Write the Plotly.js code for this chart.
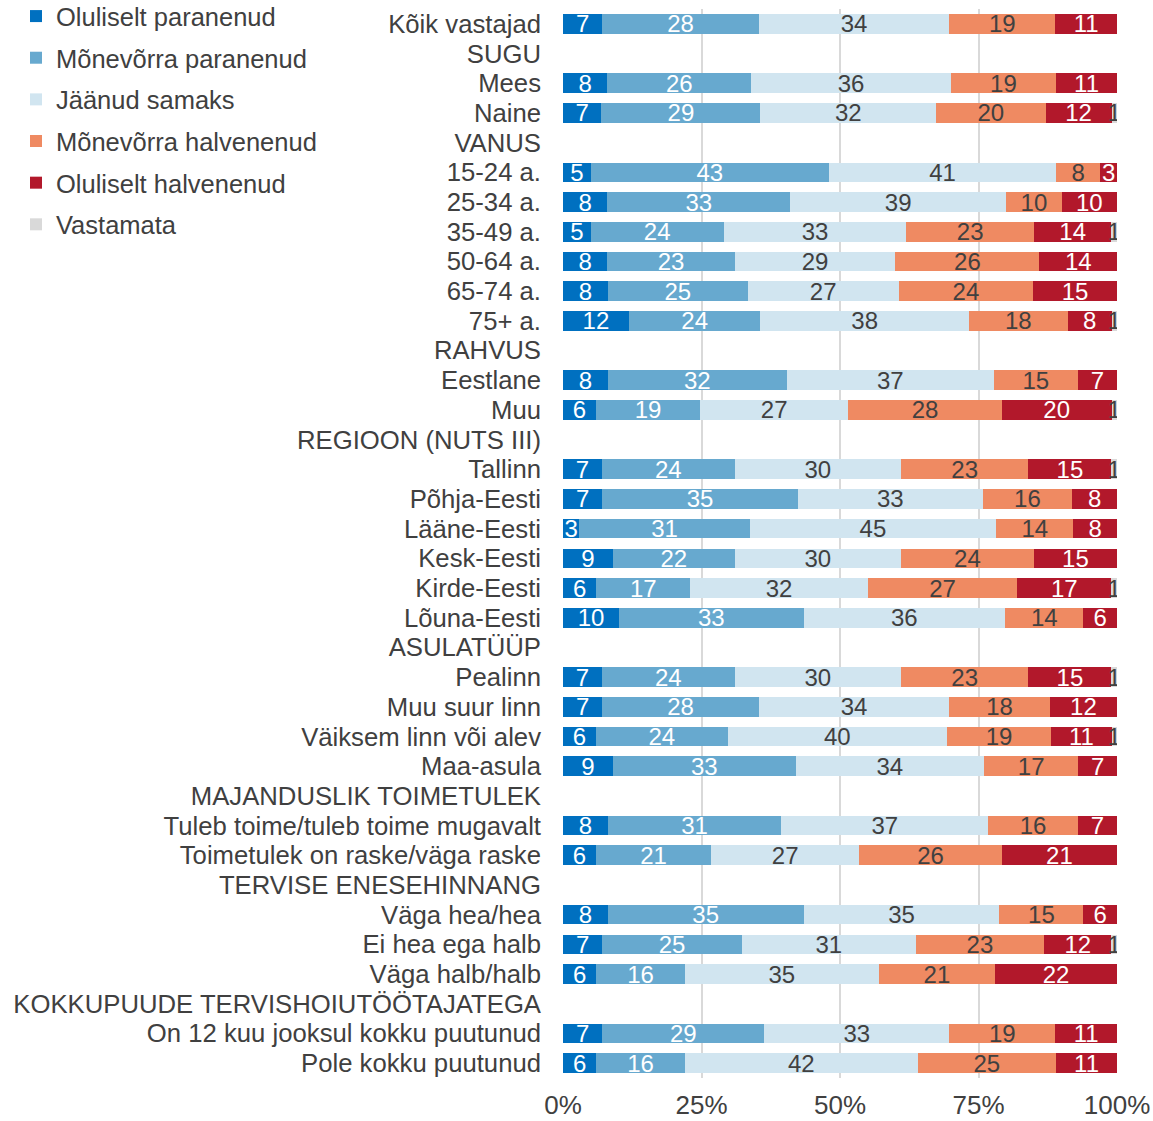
<!DOCTYPE html>
<html>
<head>
<meta charset="utf-8">
<script src="https://cdn.plot.ly/plotly-3.0.1.min.js"></script>
<style>html,body{margin:0;padding:0;background:#fff;}#chart{width:1153px;height:1121px;}</style>
</head>
<body>
<div id="chart"></div>
<script>
const categories = [
  "Kõik vastajad", "SUGU", "Mees", "Naine", "VANUS",
  "15-24 a.", "25-34 a.", "35-49 a.", "50-64 a.", "65-74 a.", "75+ a.",
  "RAHVUS", "Eestlane", "Muu", "REGIOON (NUTS III)",
  "Tallinn", "Põhja-Eesti", "Lääne-Eesti", "Kesk-Eesti", "Kirde-Eesti", "Lõuna-Eesti",
  "ASULATÜÜP", "Pealinn", "Muu suur linn", "Väiksem linn või alev", "Maa-asula",
  "MAJANDUSLIK TOIMETULEK", "Tuleb toime/tuleb toime mugavalt", "Toimetulek on raske/väga raske",
  "TERVISE ENESEHINNANG", "Väga hea/hea", "Ei hea ega halb", "Väga halb/halb",
  "KOKKUPUUDE TERVISHOIUTÖÖTAJATEGA", "On 12 kuu jooksul kokku puutunud", "Pole kokku puutunud"
];

const seriesNames = ["Oluliselt paranenud", "Mõnevõrra paranenud", "Jäänud samaks",
  "Mõnevõrra halvenenud", "Oluliselt halvenenud", "Vastamata"];

const olulParanenud = [7,null,8,7,null,5,8,5,8,8,12,null,8,6,null,7,7,3,9,6,10,null,7,7,6,9,null,8,6,null,8,7,6,null,7,6];
const monevParanenud = [28,null,26,29,null,43,33,24,23,25,24,null,32,19,null,24,35,31,22,17,33,null,24,28,24,33,null,31,21,null,35,25,16,null,29,16];
const jaanudSamaks = [34,null,36,32,null,41,39,33,29,27,38,null,37,27,null,30,33,45,30,32,36,null,30,34,40,34,null,37,27,null,35,31,35,null,33,42];
const monevHalvenenud = [19,null,19,20,null,8,10,23,26,24,18,null,15,28,null,23,16,14,24,27,14,null,23,18,19,17,null,16,26,null,15,23,21,null,19,25];
const olulHalvenenud = [11,null,11,12,null,3,10,14,14,15,8,null,7,20,null,15,8,8,15,17,6,null,15,12,11,7,null,7,21,null,6,12,22,null,11,11];
const vastamata = [null,null,null,1,null,null,null,1,null,null,1,null,null,1,null,1,null,null,null,1,null,null,1,null,1,null,null,null,null,null,null,1,null,null,null,null];

const xTickVals = [0, 25, 50, 75, 100];
const xTickText = ["0%", "25%", "50%", "75%", "100%"];

const allSeries = [olulParanenud, monevParanenud, jaanudSamaks, monevHalvenenud, olulHalvenenud, vastamata];
const colors = ["#0070C0", "#67A9CF", "#D1E5F0", "#EF8A62", "#B2182B", "#D9D9D9"];
const textColors = ["#ffffff", "#ffffff", "#404040", "#404040", "#ffffff", "#404040"];

const FONT = "Liberation Sans, Arial, sans-serif";

const traces = allSeries.map((vals, i) => ({
  type: "bar",
  orientation: "h",
  name: seriesNames[i],
  legendgroup: "g" + i,
  y: categories,
  x: vals,
  marker: { color: colors[i], line: { width: 0 } },
  text: vals.map(v => (v === null ? "" : String(v))),
  texttemplate: "%{text}",
  textposition: "inside",
  insidetextanchor: "middle",
  textangle: 0,
  insidetextfont: { family: FONT, size: 24, color: textColors[i] },
  hoverinfo: "x+y+name",
  width: 0.66
}));

const layout = {
  width: 1153,
  height: 1121,
  barmode: "stack",
  barnorm: "percent",
  paper_bgcolor: "#ffffff",
  plot_bgcolor: "#ffffff",
  margin: { l: 563, r: 36, t: 9, b: 43, autoexpand: false },
  font: { family: FONT, size: 25, color: "#404040" },
  uniformtext: { minsize: 24, mode: "show" },
  xaxis: {
    range: [0, 100],
    tickmode: "array",
    tickvals: xTickVals,
    ticktext: xTickText,
    showgrid: true,
    gridcolor: "#D9D9D9",
    gridwidth: 2,
    zeroline: false,
    showline: false,
    ticks: "",
    tickfont: { family: FONT, size: 26, color: "#404040" },
    ticklabelstandoff: 9,
    fixedrange: true
  },
  yaxis: {
    type: "category",
    autorange: "reversed",
    automargin: false,
    tickmode: "array",
    tickvals: categories,
    ticktext: categories,
    showgrid: false,
    zeroline: false,
    showline: false,
    ticks: "",
    tickfont: { family: FONT, size: 25.7, color: "#404040" },
    ticklabelstandoff: 21,
    fixedrange: true
  },
  showlegend: true,
  legend: {
    xref: "container",
    yref: "paper",
    x: 16 / 1153,
    y: 1 + 16 / 1069,
    xanchor: "left",
    yanchor: "top",
    orientation: "v",
    traceorder: "grouped",
    tracegroupgap: 5.5,
    bgcolor: "rgba(0,0,0,0)",
    font: { family: FONT, size: 25.5, color: "#404040" }
  }
};

Plotly.newPlot("chart", traces, layout, { displayModeBar: false, staticPlot: true });
</script>
</body>
</html>
